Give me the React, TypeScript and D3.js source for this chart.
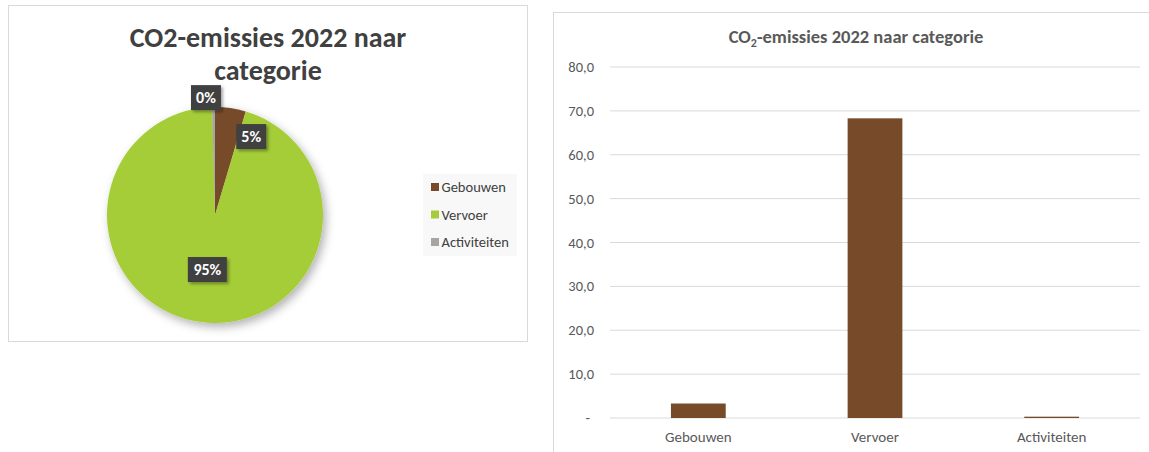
import React from "react";
import * as d3 from "d3";

const categories = ["Gebouwen", "Vervoer", "Activiteiten"];
const emissions = [3.3, 68.3, 0.3];
const colors = ["#774b2a", "#a5cd39", "#a5a5a5"];
const barColor = "#774b2a";
const yTicks = [0, 10, 20, 30, 40, 50, 60, 70, 80];
const pieTitleLines = ["CO2-emissies 2022 naar", "categorie"];
// label placement for pie labels (angle in deg from 12 o'clock, radius fraction)
const labelPlacement = [
  { angle: 24.8, r: 0.8 },
  { angle: 188, r: 0.51 },
  { angle: -4.4, r: 1.09 },
];

const FONT = "Carlito, Lato, 'Open Sans', sans-serif";

function fmt(v: number) {
  return v === 0 ? "-" : v.toFixed(1).replace(".", ",");
}

export default function App() {
  const W = 1149, H = 452;
  // Pie
  const cx = 215, cy = 215, R = 108;
  const total = d3.sum(emissions);
  const pie = d3.pie<number>().sort(null).value((d) => d);
  const arcs = pie(emissions);
  const arcGen = d3.arc<d3.PieArcDatum<number>>().innerRadius(0).outerRadius(R);

  // Bar
  const x = d3.scaleBand().domain(categories).range([610, 1140]).paddingInner(0.69).paddingOuter(0.345);
  const y = d3.scaleLinear().domain([0, 80]).range([418, 67]);

  return (
    <svg width={W} height={H} style={{ position: "absolute", left: 0, top: 0, fontFamily: FONT }}>
      <defs>
        <filter id="pieShadow" x="-30%" y="-30%" width="160%" height="160%">
          <feDropShadow dx="3" dy="4" stdDeviation="5" floodColor="#000" floodOpacity="0.3" />
        </filter>
        <filter id="boxShadow" x="-30%" y="-30%" width="160%" height="160%">
          <feDropShadow dx="2" dy="2" stdDeviation="1.5" floodColor="#000" floodOpacity="0.35" />
        </filter>
      </defs>
      <rect width={W} height={H} fill="#fff" />
      {/* cut-off heading above */}
      <text x={10} y={-3} fontSize={18.5} fontWeight="bold" fill="#000" fontFamily={FONT}>
        Figuur 2: CO2-emissies 2022 naar categorie
      </text>

      {/* Pie chart box */}
      <rect x={8.5} y={5.5} width={519} height={336} fill="#fff" stroke="#d9d9d9" />
      {pieTitleLines.map((t, i) => (
        <text key={i} x={268} y={47 + i * 33} textAnchor="middle" fontSize={28} fontWeight="bold" fill="#404040">
          {t}
        </text>
      ))}
      <g transform={`translate(${cx},${cy})`} filter="url(#pieShadow)">
        {arcs.map((a, i) => (
          <path key={i} d={arcGen(a) || ""} fill={colors[i]} />
        ))}
      </g>
      {arcs.map((a, i) => {
        const p = labelPlacement[i];
        const ang = (p.angle * Math.PI) / 180;
        const lx = cx + Math.sin(ang) * R * p.r;
        const ly = cy - Math.cos(ang) * R * p.r;
        const label = `${Math.round((a.value / total) * 100)}%`;
        const w = label.length * 9 + 12;
        const h = 25;
        return (
          <g key={i}>
            <rect x={lx - w / 2} y={ly - h / 2} width={w} height={h} fill="#404040" filter="url(#boxShadow)" />
            <text x={lx} y={ly + 5.5} textAnchor="middle" fontSize={16} fontWeight="bold" fill="#fff">
              {label}
            </text>
          </g>
        );
      })}
      {/* legend */}
      <rect x={423} y={174} width={94} height={82} fill="#f8f8f8" />
      {categories.map((c, i) => (
        <g key={c} transform={`translate(431,${187 + i * 27.5})`}>
          <rect x={0} y={-4} width={8} height={8} fill={colors[i]} />
          <text x={10.5} y={5} fontSize={14.5} fill="#404040">
            {c}
          </text>
        </g>
      ))}

      {/* Bar chart box */}
      <rect x={553.5} y={12.5} width={620} height={460} fill="#fff" stroke="#d9d9d9" />
      <text x={856} y={43} textAnchor="middle" fontSize={18.5} fontWeight="bold" fill="#595959">
        CO<tspan fontSize={12} dy={4}>2</tspan>
        <tspan dy={-4}>-emissies 2022 naar categorie</tspan>
      </text>
      {yTicks.map((t) => (
        <g key={t}>
          <line x1={610} x2={1140} y1={y(t)} y2={y(t)} stroke="#d9d9d9" strokeWidth={1} />
          <text x={t === 0 ? 590 : 594} y={y(t) + 5} textAnchor="end" fontSize={14.5} fill="#595959">
            {fmt(t)}
          </text>
        </g>
      ))}
      {categories.map((c, i) => (
        <g key={c}>
          <rect
            x={x(c)!}
            y={y(emissions[i])}
            width={x.bandwidth()}
            height={y(0) - y(emissions[i])}
            fill={barColor}
          />
          <text x={x(c)! + x.bandwidth() / 2} y={442} textAnchor="middle" fontSize={15} fill="#595959">
            {c}
          </text>
        </g>
      ))}
    </svg>
  );
}
